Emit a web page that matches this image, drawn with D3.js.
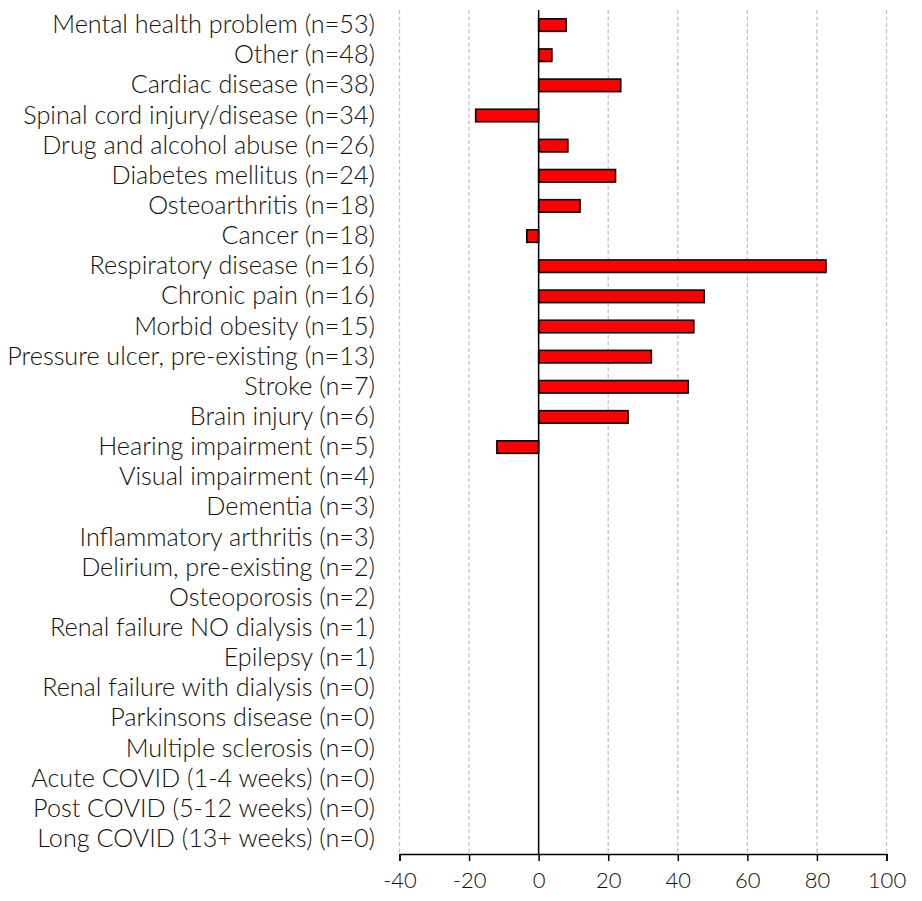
<!DOCTYPE html>
<html><head><meta charset="utf-8">
<script src="https://cdn.jsdelivr.net/npm/d3@7"></script>
<style>body{margin:0;background:#fff;} text{font-family:Lato, sans-serif;font-weight:300;}</style>
</head><body>
<svg id="c" width="922" height="901"></svg>
<script>
const categories = ["Mental health problem (n=53)","Other (n=48)","Cardiac disease (n=38)","Spinal cord injury/disease (n=34)","Drug and alcohol abuse (n=26)","Diabetes mellitus (n=24)","Osteoarthritis (n=18)","Cancer (n=18)","Respiratory disease (n=16)","Chronic pain (n=16)","Morbid obesity (n=15)","Pressure ulcer, pre-existing (n=13)","Stroke (n=7)","Brain injury (n=6)","Hearing impairment (n=5)","Visual impairment (n=4)","Dementia (n=3)","Inflammatory arthritis (n=3)","Delirium, pre-existing (n=2)","Osteoporosis (n=2)","Renal failure NO dialysis (n=1)","Epilepsy (n=1)","Renal failure with dialysis (n=0)","Parkinsons disease (n=0)","Multiple sclerosis (n=0)","Acute COVID (1-4 weeks) (n=0)","Post COVID (5-12 weeks) (n=0)","Long COVID (13+ weeks) (n=0)"];
const values = [7.9,3.8,23.6,-18.1,8.4,22.1,11.9,-3.4,82.6,47.6,44.6,32.4,43.0,25.7,-12.0,null,null,null,null,null,null,null,null,null,null,null,null,null];
const xTicks = [-40,-20,0,20,40,60,80,100];

const svg = d3.select("#c");
const x = d3.scaleLinear().domain([-40,100]).range([399.5,886.5]);
const y = d3.scaleBand().domain(categories).range([10,854]).paddingInner(0.585).paddingOuter(0.2925);

// gridlines
svg.append("g").selectAll("line").data(xTicks.filter(d=>d!==0)).join("line")
  .attr("x1",d=>x(d)).attr("x2",d=>x(d)).attr("y1",10).attr("y2",854)
  .attr("stroke","#c4c4c4").attr("stroke-width",1.3).attr("stroke-dasharray","4,2.5");

// bars
const data = categories.map((c,i)=>({c,v:values[i]})).filter(d=>d.v!==null);
svg.append("g").selectAll("rect").data(data).join("rect")
  .attr("x",d=>x(Math.min(0,d.v))).attr("width",d=>Math.abs(x(d.v)-x(0)))
  .attr("y",d=>y(d.c)).attr("height",y.bandwidth())
  .attr("fill","#ff0000").attr("stroke","#000").attr("stroke-width",1.6);

// zero line
svg.append("line").attr("x1",x(0)).attr("x2",x(0)).attr("y1",10).attr("y2",854)
  .attr("stroke","#000").attr("stroke-width",1.5);

// x axis
const xa = svg.append("g").attr("transform","translate(0,854)")
  .call(d3.axisBottom(x).tickValues(xTicks).tickSize(7).tickPadding(11).tickFormat(d=>String(d)));
xa.select(".domain").attr("stroke","#000").attr("stroke-width",1.5);
xa.selectAll(".tick line").attr("stroke","#000").attr("stroke-width",1.5);
xa.selectAll("text").attr("font-size",22).attr("fill","#111").style("font-family","Lato, sans-serif").style("font-weight",300);

// category labels
svg.append("g").selectAll("text").data(categories).join("text")
  .attr("x",375).attr("y",d=>y(d)+y.bandwidth()/2).attr("dy","0.32em")
  .attr("text-anchor","end").attr("font-size",25.2).attr("fill","#111").text(d=>d);
</script>
</body></html>
